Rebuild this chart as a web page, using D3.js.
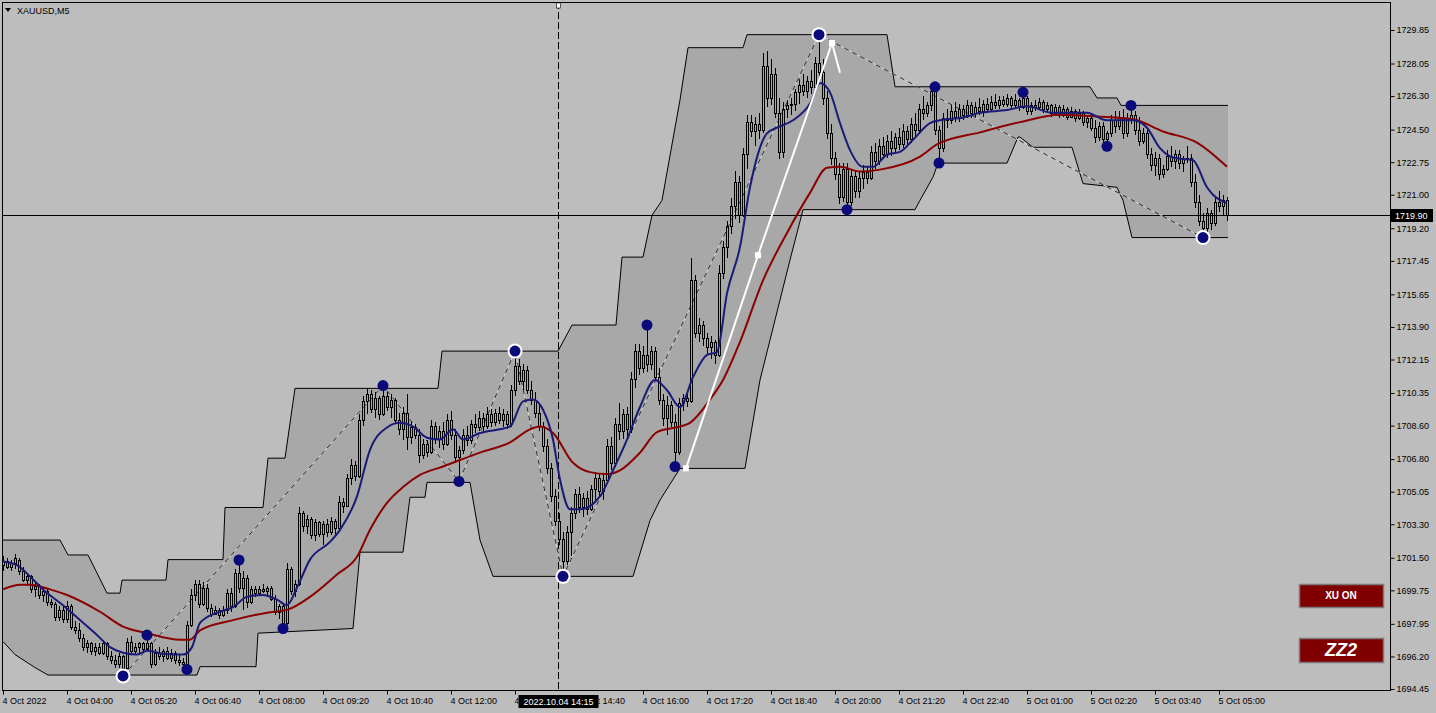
<!DOCTYPE html>
<html>
<head>
<meta charset="utf-8">
<script src="https://cdn.jsdelivr.net/npm/d3@7"></script>
<style>
  body { margin: 0; background: #bdbdbd; }
  svg { display: block; }
  text { font-family: "Liberation Sans", Arial, sans-serif; }
</style>
</head>
<body>
<div id="chart"></div>
<script>
// XAUUSD M5, bars from 4 Oct 02:40 (bar 0) to 5 Oct 05:10 (bar 306)
// [open, high, low, close]
var candles = [
  [1701.1,1701.6,1700.8,1701.3],[1701.3,1701.5,1700.9,1701.0],[1701.0,1701.4,1700.8,1701.2],[1701.2,1701.7,1700.9,1701.5],
  [1701.4,1701.5,1700.6,1700.8],[1700.8,1701.0,1700.2,1700.3],[1700.3,1700.7,1700.0,1700.5],[1700.5,1700.6,1699.6,1699.8],
  [1699.8,1700.2,1699.4,1700.0],[1700.0,1700.1,1699.3,1699.5],[1699.5,1699.9,1699.1,1699.7],[1699.7,1699.8,1698.9,1699.1],
  [1699.1,1699.3,1698.8,1699.0],[1699.0,1699.1,1698.1,1698.3],[1698.3,1698.9,1698.1,1698.7],[1698.7,1698.9,1698.0,1698.2],
  [1698.2,1699.2,1698.0,1698.9],[1698.9,1699.0,1697.6,1697.8],[1697.8,1698.1,1697.4,1697.6],[1697.6,1698.0,1697.0,1697.2],
  [1697.2,1697.4,1696.5,1696.7],[1696.7,1697.1,1696.4,1696.9],[1696.9,1697.0,1696.3,1696.5],[1696.5,1696.9,1696.2,1696.7],
  [1696.7,1696.9,1696.3,1696.4],[1696.4,1697.1,1696.3,1696.9],[1696.9,1697.0,1696.0,1696.2],[1696.2,1696.5,1695.8,1696.0],
  [1696.0,1696.3,1695.6,1695.8],[1695.8,1696.4,1695.6,1696.2],[1696.2,1696.3,1695.15,1695.6],[1695.6,1697.2,1695.5,1697.0],
  [1697.0,1697.3,1696.3,1696.5],[1696.5,1696.9,1696.3,1696.7],[1696.7,1697.0,1696.4,1696.9],[1696.9,1697.0,1696.5,1696.6],
  [1696.6,1697.35,1696.5,1696.9],[1696.9,1697.0,1695.6,1695.8],[1695.8,1696.6,1695.7,1696.4],[1696.4,1696.7,1696.0,1696.2],
  [1696.2,1696.6,1695.9,1696.5],[1696.5,1696.7,1696.0,1696.1],[1696.1,1696.6,1695.9,1696.4],[1696.4,1696.5,1695.8,1696.0],
  [1696.0,1696.3,1695.7,1695.9],[1695.9,1696.1,1695.6,1695.8],[1695.8,1698.1,1695.5,1697.9],[1697.9,1699.8,1697.8,1699.5],
  [1699.5,1700.3,1699.2,1700.1],[1700.1,1700.3,1698.8,1699.0],[1699.0,1700.2,1698.9,1699.9],[1699.9,1700.1,1698.6,1698.8],
  [1698.8,1699.0,1698.3,1698.5],[1698.5,1698.9,1698.4,1698.7],[1698.7,1698.8,1698.2,1698.4],[1698.4,1698.9,1698.3,1698.7],
  [1698.7,1699.8,1698.5,1699.6],[1699.6,1699.9,1698.6,1698.9],[1698.9,1700.9,1698.8,1700.7],[1700.7,1701.38,1699.6,1699.9],
  [1699.9,1700.8,1698.7,1700.4],[1700.4,1700.6,1698.8,1699.1],[1699.1,1700.0,1699.0,1699.8],[1699.8,1700.0,1699.4,1699.6],
  [1699.6,1700.0,1699.5,1699.8],[1699.8,1700.1,1699.6,1699.7],[1699.7,1700.0,1699.4,1699.9],[1699.9,1700.0,1699.2,1699.3],
  [1699.3,1699.5,1698.4,1698.6],[1698.6,1699.0,1698.2,1698.9],[1698.9,1699.0,1697.7,1698.0],[1698.0,1701.2,1697.9,1700.9],
  [1700.9,1701.0,1699.5,1699.7],[1699.7,1700.3,1699.4,1700.1],[1700.1,1704.2,1700.0,1703.9],[1703.9,1704.0,1702.9,1703.2],
  [1703.2,1703.8,1702.8,1703.6],[1703.6,1703.7,1702.5,1702.7],[1702.7,1703.6,1702.4,1703.4],[1703.4,1703.5,1702.6,1702.8],
  [1702.8,1703.5,1702.2,1703.3],[1703.3,1703.6,1702.6,1702.9],[1702.9,1703.7,1702.7,1703.5],[1703.5,1703.6,1702.8,1703.1],
  [1703.1,1704.8,1703.0,1704.5],[1704.5,1704.7,1703.9,1704.3],[1704.3,1706.0,1704.2,1705.8],[1705.8,1706.8,1705.4,1706.5],
  [1706.5,1706.7,1705.6,1705.9],[1705.9,1709.2,1705.8,1708.9],[1708.9,1710.2,1708.6,1709.9],[1709.9,1710.6,1709.2,1710.3],
  [1710.3,1710.5,1709.3,1709.5],[1709.5,1710.4,1709.0,1710.1],[1710.1,1710.2,1708.9,1709.2],[1709.2,1710.75,1709.1,1710.2],
  [1710.2,1710.4,1709.4,1709.6],[1709.6,1710.3,1709.0,1710.0],[1710.0,1710.1,1708.7,1708.9],[1708.9,1709.3,1708.1,1708.4],
  [1708.4,1709.6,1707.8,1709.3],[1709.3,1710.3,1707.3,1708.0],[1708.0,1708.8,1707.6,1708.5],[1708.5,1708.7,1707.9,1708.1],
  [1708.1,1708.4,1706.6,1707.0],[1707.0,1707.9,1706.8,1707.6],[1707.6,1707.8,1706.9,1707.2],[1707.2,1708.9,1707.1,1708.6],
  [1708.6,1708.8,1707.6,1707.9],[1707.9,1708.6,1707.4,1708.3],[1708.3,1708.8,1707.3,1707.6],[1707.6,1709.2,1707.5,1708.9],
  [1708.9,1709.4,1707.8,1708.1],[1708.1,1708.4,1706.6,1706.9],[1706.9,1707.5,1705.6,1707.3],[1707.3,1708.4,1707.1,1708.1],
  [1708.1,1708.6,1707.5,1707.8],[1707.8,1708.9,1707.6,1708.7],[1708.7,1709.2,1708.2,1708.5],[1708.5,1709.4,1708.3,1709.0],
  [1709.0,1709.3,1708.2,1708.6],[1708.6,1709.6,1708.4,1709.2],[1709.2,1709.5,1708.5,1708.8],[1708.8,1709.5,1708.6,1709.3],
  [1709.3,1709.6,1708.7,1708.9],[1708.9,1709.5,1708.5,1709.2],[1709.2,1709.4,1708.4,1708.7],[1708.7,1710.8,1708.5,1710.5],
  [1710.5,1712.6,1710.2,1711.8],[1711.8,1712.2,1710.8,1711.0],[1711.0,1711.9,1710.5,1711.6],[1711.6,1711.8,1710.3,1710.5],
  [1710.5,1711.0,1709.7,1710.0],[1710.0,1710.4,1709.0,1709.3],[1709.3,1709.8,1708.3,1708.6],[1708.6,1708.8,1707.2,1707.5],
  [1707.5,1707.9,1706.0,1706.3],[1706.3,1706.6,1704.5,1704.8],[1704.8,1705.2,1703.2,1703.5],[1703.5,1703.9,1702.2,1702.5],
  [1702.5,1702.9,1700.5,1701.3],[1701.3,1703.2,1701.1,1702.9],[1702.9,1704.2,1701.6,1703.9],[1703.9,1705.2,1703.6,1704.9],
  [1704.9,1705.3,1703.9,1704.2],[1704.2,1705.0,1703.7,1704.7],[1704.7,1705.1,1703.8,1704.1],[1704.1,1705.4,1704.0,1705.2],
  [1705.2,1706.1,1704.6,1705.8],[1705.8,1706.0,1704.8,1705.1],[1705.1,1706.0,1704.6,1705.7],[1705.7,1707.9,1705.5,1707.5],
  [1707.5,1708.0,1706.2,1706.6],[1706.6,1709.0,1706.4,1708.7],[1708.7,1709.8,1707.8,1708.3],[1708.3,1709.5,1707.9,1709.2],
  [1709.2,1709.6,1708.0,1708.4],[1708.4,1711.5,1708.2,1711.1],[1711.1,1713.0,1710.6,1712.6],[1712.6,1713.0,1711.3,1711.7],
  [1711.7,1712.9,1711.4,1712.4],[1712.4,1714.0,1711.5,1711.9],[1711.9,1712.9,1711.6,1712.6],[1712.6,1712.8,1711.0,1711.2],
  [1711.2,1711.7,1709.7,1710.0],[1710.0,1710.3,1708.6,1709.0],[1709.0,1710.2,1708.1,1709.7],[1709.7,1709.9,1708.5,1708.8],
  [1708.8,1709.2,1706.4,1707.2],[1707.2,1710.1,1707.0,1709.8],[1709.8,1710.3,1709.4,1710.1],[1710.1,1710.3,1709.6,1709.9],
  [1709.9,1717.6,1709.8,1716.4],[1716.4,1716.7,1713.3,1713.6],[1713.6,1714.4,1713.1,1714.0],[1714.0,1714.2,1712.9,1713.3],
  [1713.3,1713.6,1712.4,1712.8],[1712.8,1713.4,1712.2,1713.1],[1713.1,1713.2,1711.9,1712.4],[1712.4,1717.2,1712.3,1716.8],
  [1716.8,1718.5,1716.5,1718.2],[1718.2,1719.6,1717.6,1719.3],[1719.3,1720.8,1718.9,1720.4],[1720.4,1722.3,1719.7,1721.7],
  [1721.7,1722.0,1719.5,1719.9],[1719.9,1723.5,1719.8,1723.2],[1723.2,1725.3,1722.4,1724.9],[1724.9,1725.3,1724.1,1724.4],
  [1724.4,1725.2,1723.6,1724.8],[1724.8,1725.4,1724.0,1724.5],[1724.5,1728.6,1724.3,1727.9],[1727.9,1728.7,1725.7,1726.2],
  [1726.2,1728.3,1725.8,1727.5],[1727.5,1727.8,1725.1,1725.4],[1725.4,1726.2,1722.9,1723.3],[1723.3,1726.0,1723.0,1725.6],
  [1725.6,1726.1,1725.1,1725.8],[1725.8,1726.2,1725.3,1725.9],[1725.9,1726.7,1725.5,1726.5],[1726.5,1727.2,1725.9,1726.9],
  [1726.9,1727.5,1726.3,1726.6],[1726.6,1727.4,1726.2,1727.1],[1727.1,1727.7,1726.4,1726.8],[1726.8,1728.4,1726.5,1728.1],
  [1728.1,1729.6,1727.2,1727.6],[1727.6,1728.3,1725.8,1726.2],[1726.2,1726.6,1724.0,1724.3],[1724.3,1724.8,1722.6,1723.0],
  [1723.0,1723.3,1721.8,1722.1],[1722.1,1722.7,1720.5,1720.9],[1720.9,1722.7,1720.6,1722.4],[1722.4,1722.7,1720.2,1720.6],
  [1720.6,1722.4,1720.4,1722.0],[1722.0,1722.3,1720.8,1721.2],[1721.2,1722.2,1720.8,1721.9],[1721.9,1722.6,1721.3,1722.2],
  [1722.2,1722.5,1721.6,1721.9],[1721.9,1723.6,1721.8,1723.3],[1723.3,1723.8,1722.4,1722.8],[1722.8,1724.0,1722.6,1723.6],
  [1723.6,1724.1,1722.9,1723.2],[1723.2,1724.2,1723.0,1723.9],[1723.9,1724.4,1723.1,1723.5],[1723.5,1724.3,1723.2,1724.1],
  [1724.1,1724.6,1723.4,1723.7],[1723.7,1724.8,1723.5,1724.4],[1724.4,1724.7,1723.6,1724.0],[1724.0,1725.1,1723.8,1724.8],
  [1724.8,1725.4,1724.1,1724.5],[1724.5,1725.9,1724.3,1725.6],[1725.6,1726.3,1725.0,1725.4],[1725.4,1726.0,1725.2,1725.8],
  [1725.8,1726.8,1725.5,1726.6],[1726.6,1726.8,1724.2,1724.5],[1724.5,1724.7,1722.7,1723.5],[1723.5,1725.4,1723.3,1725.1],
  [1725.1,1725.6,1724.6,1725.0],[1725.0,1725.8,1724.8,1725.5],[1725.5,1726.0,1724.9,1725.2],[1725.2,1725.9,1724.9,1725.6],
  [1725.6,1725.8,1725.0,1725.3],[1725.3,1726.1,1725.1,1725.8],[1725.8,1726.0,1725.1,1725.4],[1725.4,1726.0,1725.2,1725.7],
  [1725.7,1726.2,1725.3,1725.5],[1725.5,1726.1,1725.2,1725.9],[1725.9,1726.2,1725.4,1725.6],[1725.6,1726.3,1725.5,1726.0],
  [1726.0,1726.4,1725.6,1725.8],[1725.8,1726.3,1725.6,1726.1],[1726.1,1726.3,1725.7,1725.9],[1725.9,1726.4,1725.7,1726.2],
  [1726.2,1726.3,1725.6,1725.8],[1725.8,1726.4,1725.6,1726.1],[1726.1,1726.2,1725.5,1725.7],[1725.7,1726.5,1725.6,1726.2],
  [1726.2,1726.3,1725.3,1725.5],[1725.5,1726.0,1725.3,1725.8],[1725.8,1726.1,1725.5,1725.7],[1725.7,1726.2,1725.6,1726.0],
  [1726.0,1726.1,1725.4,1725.6],[1725.6,1726.0,1725.4,1725.8],[1725.8,1725.9,1725.2,1725.4],[1725.4,1725.9,1725.3,1725.7],
  [1725.7,1725.8,1725.1,1725.3],[1725.3,1725.8,1725.2,1725.6],[1725.6,1725.7,1725.0,1725.2],[1725.2,1725.7,1725.1,1725.5],
  [1725.5,1725.6,1724.9,1725.1],[1725.1,1725.6,1725.0,1725.4],[1725.4,1725.5,1724.7,1724.9],[1724.9,1725.3,1724.6,1725.1],
  [1725.1,1725.3,1724.4,1724.6],[1724.6,1725.0,1723.8,1724.1],[1724.1,1724.9,1723.9,1724.7],[1724.7,1724.9,1723.7,1724.0],
  [1724.0,1724.4,1723.6,1724.3],[1724.3,1725.3,1724.1,1725.0],[1725.0,1725.5,1724.3,1724.7],[1724.7,1725.5,1724.5,1725.2],
  [1725.2,1725.6,1724.0,1724.3],[1724.3,1725.4,1724.1,1725.1],[1725.1,1725.8,1724.8,1725.3],[1725.3,1725.5,1724.2,1724.5],
  [1724.5,1725.2,1723.6,1723.9],[1723.9,1724.6,1723.7,1724.3],[1724.3,1724.5,1722.9,1723.2],[1723.2,1723.5,1722.3,1722.6],
  [1722.6,1723.3,1722.0,1723.0],[1723.0,1723.2,1721.8,1722.1],[1722.1,1722.6,1721.9,1722.4],[1722.4,1723.4,1722.3,1723.1],
  [1723.1,1723.6,1722.5,1722.8],[1722.8,1723.4,1722.4,1723.2],[1723.2,1723.4,1722.4,1722.7],[1722.7,1723.1,1722.2,1722.9],
  [1722.9,1723.6,1722.7,1723.0],[1723.0,1723.2,1721.4,1721.7],[1721.7,1722.1,1720.3,1720.6],[1720.6,1721.0,1719.3,1719.6],
  [1719.6,1720.0,1718.7,1719.2],[1719.2,1720.3,1719.0,1720.0],[1720.0,1720.2,1719.1,1719.5],[1719.5,1720.8,1719.3,1720.6],
  [1720.6,1721.2,1720.1,1720.4],[1720.4,1721.0,1719.9,1720.7],[1720.7,1720.9,1719.6,1719.9]
];

// price channel edges, [bar, price]
var bandUpper = [[0,1702.45],[14.25,1702.45],[16.25,1701.65],[21.25,1701.65],[26,1699.6],[29.25,1699.6],[29.75,1700.3],
  [40.75,1700.3],[41.25,1701.4],[55,1701.4],[55.5,1704.2],[65,1704.2],[66.25,1706.85],[70.5,1706.85],[73,1710.6],
  [108.75,1710.6],[109.75,1712.6],[138.75,1712.6],[142.25,1714.0],[153.25,1714.0],[154.75,1717.65],[160,1717.65],
  [162.25,1719.9],[164.75,1720.7],[169.25,1726.1],[171.25,1728.9],[185,1728.9],[186,1729.6],[221,1729.6],[223,1726.8],
  [271.75,1726.8],[273.5,1726.2],[278.5,1726.2],[279.5,1725.8],[306.25,1725.8]];
var bandLower = [[0,1697.0],[3,1696.3],[8,1695.6],[11.25,1695.2],[48.5,1695.2],[49.25,1695.65],[63.25,1695.65],[63.75,1697.45],
  [87.5,1697.7],[89.25,1701.8],[100,1701.8],[101.75,1704.75],[105.5,1704.75],[106,1705.55],[116.75,1705.55],[119.25,1702.45],
  [122.5,1700.5],[157.5,1700.5],[161.75,1703.5],[164.25,1704.6],[169.25,1706.3],[185.5,1706.3],[189.25,1711.05],
  [196.75,1717.5],[200,1720.2],[228,1720.2],[229.25,1720.7],[232.5,1721.95],[233.75,1722.7],[251,1722.7],[253.75,1724.1],
  [254.25,1724.1],[257.5,1723.55],[267.25,1723.55],[270,1721.6],[278.5,1721.4],[280,1720.7],[282.25,1718.7],[306.25,1718.7]];

// moving averages, [bar, price]
var maFast = [[0,1701.3],[3.5,1701.1],[6.75,1700.5],[10,1699.8],[15,1698.95],[19.25,1698.15],[23.5,1697.35],[26.75,1696.7],
  [30,1696.4],[33.5,1696.3],[36,1696.5],[40,1696.35],[45,1696.3],[47.25,1696.7],[49.25,1698.0],[53.5,1698.55],[57.5,1698.85],
  [61,1699.4],[65,1699.5],[68.5,1699.25],[71,1698.95],[73.5,1699.9],[76.75,1701.4],[81.75,1702.35],[84.25,1703.0],[88.5,1704.8],
  [91.75,1707.3],[96,1708.5],[99.25,1708.75],[102.5,1708.55],[106,1707.95],[109.25,1707.85],[112.5,1708.4],[115,1707.85],
  [119.25,1708.2],[126.75,1708.55],[130,1709.9],[132.5,1710.0],[135,1709.45],[137.5,1707.85],[139.25,1705.7],[141.75,1704.1],
  [144.25,1704.1],[149.25,1704.8],[152.5,1706.2],[156,1707.85],[159.25,1709.6],[163,1711.05],[166,1710.5],[169.25,1709.6],
  [172.5,1711.2],[176,1712.4],[178.5,1712.55],[181,1715.7],[184.25,1718.2],[186.75,1721.4],[191,1724.3],[193.5,1724.6],
  [197.5,1725.0],[201.75,1725.9],[204.25,1727.0],[206.75,1726.5],[209.25,1724.85],[211.75,1723.4],[215,1722.5],[217.5,1722.5],
  [221,1723.15],[224.25,1723.3],[227.5,1723.95],[231.75,1724.85],[234.25,1725.0],[240,1725.15],[244.25,1725.4],[251,1725.55],
  [256,1725.75],[262.5,1725.4],[271,1725.4],[276,1725.0],[282.5,1725.0],[286,1724.6],[289.25,1723.5],[292.5,1723.0],
  [297.5,1722.85],[301,1721.4],[302.5,1721.0],[306,1720.55]];
var maSlow = [[0,1699.8],[4.25,1700.05],[6.75,1700.05],[11.75,1699.8],[16,1699.5],[24.25,1698.6],[30,1697.8],[36,1697.45],
  [44.25,1697.1],[46.75,1697.1],[49.25,1697.6],[57.5,1698.15],[66,1698.55],[71,1698.7],[76.75,1699.4],[83.5,1700.6],
  [88.5,1701.55],[91.75,1703.0],[96,1704.45],[100,1705.3],[104.25,1705.95],[110,1706.4],[114.25,1706.75],[119.25,1707.15],
  [126.75,1707.7],[131.75,1708.4],[134.25,1708.55],[137.5,1708.2],[142.5,1706.6],[146.75,1706.1],[151,1706.0],[154.25,1706.2],
  [159.25,1707.15],[163.5,1708.25],[169.25,1708.55],[171.75,1708.75],[176.75,1710.0],[180,1711.05],[184.25,1713.1],
  [190,1716.4],[196,1718.95],[201.75,1721.1],[206,1722.45],[209.25,1722.5],[214.25,1722.25],[219.25,1722.35],[229.25,1723.05],
  [233.5,1723.7],[244.25,1724.35],[254.25,1724.9],[264.25,1725.3],[273.5,1725.2],[282.5,1725.05],[290,1724.4],[298.5,1723.8],
  [306,1722.5]];

// zigzag swings: [bar, price, major]
var swings = [[30,1695.15,1],[36,1697.35,0],[46,1695.5,0],[59,1701.38,0],[70,1697.7,0],[95,1710.75,0],[114,1705.6,0],
  [128,1712.6,1],[140,1700.5,1],[161,1714.0,0],[168,1706.4,0],[204,1729.6,1],[211,1720.2,0],[233,1726.8,0],[234,1722.7,0],
  [255,1726.5,0],[276,1723.6,0],[282,1725.8,0],[300,1718.7,1]];
var zigzag = [[30,1695.15],[95,1710.75],[114,1705.6],[128,1712.6],[140,1700.5],[204,1729.6],[300,1718.7]];

// white projection arrow
var arrowLine = [[170.75,1706.3],[188.75,1717.75],[207.25,1729.15]];
var arrowTip = [[207.25,1729.15],[209.25,1727.55]];

var priceTicks = [1729.85,1728.05,1726.30,1724.50,1722.75,1721.00,1719.20,1717.45,1715.65,1713.90,1712.15,
  1710.35,1708.60,1706.80,1705.05,1703.30,1701.50,1699.75,1697.95,1696.20,1694.45];
var timeLabels = ["4 Oct 2022","4 Oct 04:00","4 Oct 05:20","4 Oct 06:40","4 Oct 08:00","4 Oct 09:20","4 Oct 10:40",
  "4 Oct 12:00","4 Oct 13:20","4 Oct 14:40","4 Oct 16:00","4 Oct 17:20","4 Oct 18:40","4 Oct 20:00","4 Oct 21:20",
  "4 Oct 22:40","5 Oct 01:00","5 Oct 02:20","5 Oct 03:40","5 Oct 05:00"];
var lastPrice = 1719.90;
var crossBar = 139, crossLabel = "2022.10.04 14:15";
var symbol = "XAUUSD,M5";

var W = 1436, H = 713;
var plot = {left: 2, top: 2, right: 1390, bottom: 690};

var x = d3.scaleLinear().domain([0, 306]).range([3, 1227]);
var y = d3.scaleLinear().domain([1694.45, 1729.85]).range([689, 30]);

var svg = d3.select('#chart').append('svg').attr('width', W).attr('height', H);
svg.append('rect').attr('width', W).attr('height', H).attr('fill', '#bdbdbd');

var defs = svg.append('defs');
defs.append('clipPath').attr('id', 'plotclip').append('rect')
  .attr('x', plot.left + 1).attr('y', plot.top + 1)
  .attr('width', plot.right - plot.left - 1).attr('height', plot.bottom - plot.top - 1);
var g = svg.append('g').attr('clip-path', 'url(#plotclip)');

var pt = d3.line().x(function(d) { return x(d[0]); }).y(function(d) { return y(d[1]); });

// channel fill and edges
g.append('path')
  .attr('d', pt(bandUpper.concat(bandLower.slice().reverse())) + 'Z')
  .attr('fill', '#a8a8a8');
[bandUpper, bandLower].forEach(function(b) {
  g.append('path').attr('d', pt(b)).attr('fill', 'none').attr('stroke', '#000').attr('stroke-width', 1);
});

// last price line
g.append('line')
  .attr('x1', plot.left).attr('x2', plot.right)
  .attr('y1', Math.round(y(lastPrice)) + 0.5).attr('y2', Math.round(y(lastPrice)) + 0.5)
  .attr('stroke', '#000').attr('stroke-width', 1);

// crosshair
var cx0 = Math.round(x(crossBar)) - 0.5;
g.append('line').attr('x1', cx0).attr('x2', cx0).attr('y1', plot.top).attr('y2', plot.bottom)
  .attr('stroke', '#000').attr('stroke-dasharray', '7,3');

// zigzag
g.append('path').attr('d', pt(zigzag)).attr('fill', 'none').attr('stroke', '#d4d4d4').attr('stroke-width', 1);
g.append('path').attr('d', pt(zigzag)).attr('fill', 'none').attr('stroke', '#2a2a2a')
  .attr('stroke-width', 1).attr('stroke-dasharray', '5,4');

// candles
var cg = g.append('g').attr('shape-rendering', 'crispEdges');
var bars = cg.selectAll('g.c').data(candles).enter().append('g').attr('class', 'c');
bars.each(function(d, i) {
  var el = d3.select(this);
  var cx = Math.round(x(i));
  var top = Math.round(y(Math.max(d[0], d[3])));
  var bot = Math.round(y(Math.min(d[0], d[3])));
  var hi = Math.round(y(d[1])), lo = Math.round(y(d[2]));
  el.append('line').attr('x1', cx + 0.5).attr('x2', cx + 0.5).attr('y1', hi).attr('y2', top)
    .attr('stroke', '#000');
  el.append('line').attr('x1', cx + 0.5).attr('x2', cx + 0.5).attr('y1', bot).attr('y2', lo)
    .attr('stroke', '#000');
  el.append('rect').attr('x', cx - 0.5).attr('y', top + 0.5).attr('width', 2)
    .attr('height', Math.max(0, bot - top))
    .attr('fill', 'none').attr('stroke', '#000').attr('stroke-width', 1);
});

// moving averages
var smooth = d3.line().curve(d3.curveMonotoneX)
  .x(function(d) { return x(d[0]); }).y(function(d) { return y(d[1]); });
g.append('path').attr('d', smooth(maSlow)).attr('fill', 'none').attr('stroke', '#8b0000').attr('stroke-width', 2);
g.append('path').attr('d', smooth(maFast)).attr('fill', 'none').attr('stroke', '#1a1a78').attr('stroke-width', 2);

// white arrow
g.append('path').attr('d', pt(arrowLine)).attr('fill', 'none').attr('stroke', '#fff').attr('stroke-width', 2);
g.append('path').attr('d', pt(arrowTip)).attr('fill', 'none').attr('stroke', '#fff').attr('stroke-width', 2);
g.selectAll('rect.sq').data([arrowLine[0], arrowLine[1], arrowLine[2]]).enter().append('rect')
  .attr('class', 'sq')
  .attr('x', function(d) { return x(d[0]) - 3; }).attr('y', function(d) { return y(d[1]) - 3; })
  .attr('width', 6).attr('height', 6).attr('fill', '#fff');

// swing dots
g.selectAll('circle.ring').data(swings.filter(function(d) { return d[2]; })).enter().append('circle')
  .attr('class', 'ring').attr('cx', function(d) { return x(d[0]); }).attr('cy', function(d) { return y(d[1]); })
  .attr('r', 7.5).attr('fill', '#fff');
g.selectAll('circle.dot').data(swings).enter().append('circle')
  .attr('class', 'dot').attr('cx', function(d) { return x(d[0]); }).attr('cy', function(d) { return y(d[1]); })
  .attr('r', 5.5).attr('fill', '#0a0a7a');

// frame
svg.append('rect').attr('x', plot.left + 0.5).attr('y', plot.top + 0.5)
  .attr('width', plot.right - plot.left).attr('height', plot.bottom - plot.top)
  .attr('fill', 'none').attr('stroke', '#000');

// price axis
var yAxis = d3.axisRight(y).tickValues(priceTicks).tickSize(4).tickPadding(2)
  .tickFormat(d3.format('.2f'));
var ya = svg.append('g').attr('transform', 'translate(' + (plot.right + 0.5) + ',0)').call(yAxis);
ya.select('.domain').remove();
ya.selectAll('text').attr('font-size', 9).attr('font-family', '"Liberation Sans", Arial, sans-serif').attr('fill', '#000');

// time axis, the crosshair label hides the part of the labels beneath it
var boxL = cx0 - 40, boxR = cx0 + 40;
var tclip = defs.append('clipPath').attr('id', 'timeclip');
tclip.append('rect').attr('x', 0).attr('y', plot.bottom).attr('width', boxL).attr('height', H - plot.bottom);
tclip.append('rect').attr('x', boxR).attr('y', plot.bottom).attr('width', W - boxR).attr('height', H - plot.bottom);

var tickBars = timeLabels.map(function(t, k) { return k * 16; });
var xAxis = d3.axisBottom(x).tickValues(tickBars).tickSize(4).tickPadding(3)
  .tickFormat(function(d) { return timeLabels[d / 16]; });
var xa = svg.append('g').attr('clip-path', 'url(#timeclip)')
  .append('g').attr('transform', 'translate(0,' + (plot.bottom + 0.5) + ')').call(xAxis);
xa.select('.domain').remove();
xa.selectAll('text').attr('font-size', 9).attr('text-anchor', 'start').attr('dx', -1)
  .attr('font-family', '"Liberation Sans", Arial, sans-serif').attr('fill', '#000');

// last price label
var ly = Math.round(y(lastPrice));
svg.append('rect').attr('x', plot.right + 1).attr('y', ly - 6).attr('width', 42).attr('height', 13).attr('fill', '#000');
svg.append('text').attr('x', plot.right + 5).attr('y', ly + 4).attr('font-size', 9).attr('fill', '#fff')
  .text(d3.format('.2f')(lastPrice));

// crosshair time label
svg.append('rect').attr('x', boxL).attr('y', plot.bottom + 5).attr('width', 80).attr('height', 13).attr('fill', '#000');
svg.append('text').attr('x', cx0).attr('y', plot.bottom + 15).attr('font-size', 9).attr('fill', '#fff')
  .attr('text-anchor', 'middle').text(crossLabel);
svg.append('rect').attr('x', cx0 - 2).attr('y', 3).attr('width', 4).attr('height', 5)
  .attr('fill', '#fff').attr('stroke', '#000').attr('stroke-width', 0.6);

// title
svg.append('path').attr('d', 'M5,8 L11,8 L8,12 Z').attr('fill', '#000');
svg.append('text').attr('x', 17).attr('y', 14).attr('font-size', 9).attr('fill', '#000').text(symbol);

// buttons
var buttons = [{label: 'XU ON', y: 584, h: 23, size: 10, style: 'normal'},
               {label: 'ZZ2', y: 638, h: 24, size: 18, style: 'italic'}];
var bg = svg.selectAll('g.btn').data(buttons).enter().append('g').attr('class', 'btn');
bg.append('rect').attr('x', 1299.5).attr('y', function(d) { return d.y + 0.5; })
  .attr('width', 84).attr('height', function(d) { return d.h; })
  .attr('fill', '#800000').attr('stroke', '#7a7a7a').attr('stroke-width', 1.5);
bg.append('text').attr('x', 1341).attr('y', function(d) { return d.y + d.h / 2; })
  .attr('dy', '0.36em').attr('text-anchor', 'middle').attr('fill', '#fff').attr('font-weight', 'bold')
  .attr('font-style', function(d) { return d.style; }).attr('font-size', function(d) { return d.size; })
  .attr('font-family', '"Liberation Sans Narrow", "Liberation Sans", Arial, sans-serif')
  .text(function(d) { return d.label; });
</script>
</body>
</html>
